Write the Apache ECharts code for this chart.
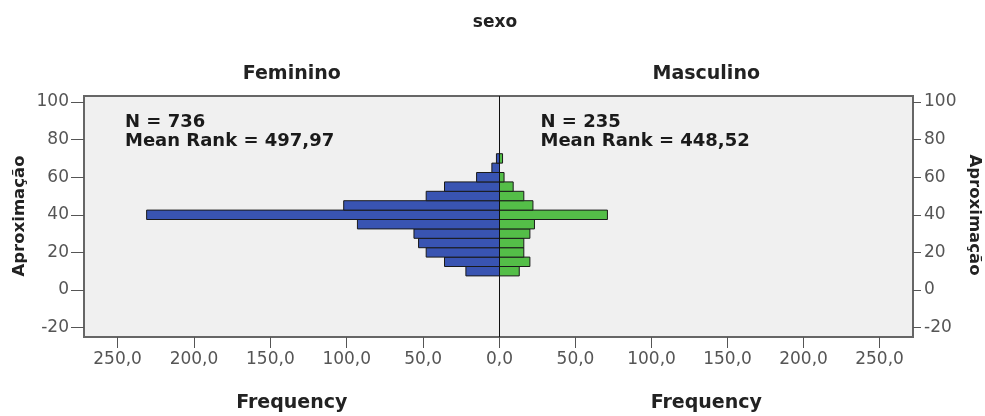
<!DOCTYPE html>
<html>
<head>
<meta charset="utf-8">
<script src="https://cdn.jsdelivr.net/npm/echarts@6/dist/echarts.min.js"></script>
<style>
html,body{margin:0;padding:0;background:#fff;}
#chart{width:985px;height:416px;}
</style>
</head>
<body>
<div id="chart"></div>
<script>
// Bin centres (Aproximação), width 5
var bins = [10, 15, 20, 25, 30, 35, 40, 45, 50, 55, 60, 65, 70];
var femininoFreq = [22, 36, 48, 53, 56, 93, 231, 102, 48, 36, 15, 5, 2];
var masculinoFreq = [13, 20, 16, 16, 20, 23, 71, 22, 16, 9, 3, 0, 2];
var binWidth = 5;
var yTicks = [-20, 0, 20, 40, 60, 80, 100];
var xTicksLeft = [0, 50, 100, 150, 200, 250];
var xTicksRight = [50, 100, 150, 200, 250];
var titleText = 'sexo';
var groupNames = ['Feminino', 'Masculino'];
var groupN = ['N = 736', 'N = 235'];
var groupRank = ['Mean Rank = 497,97', 'Mean Rank = 448,52'];
var yName = 'Aproximação';
var xName = 'Frequency';

var FONT = 'DejaVu Sans';
var chart = echarts.init(document.getElementById('chart'), null, {renderer: 'canvas'});

function fmt(v) { return v.toFixed(1).replace('.', ','); }

function makeData(freqs) {
  return bins.map(function (b, i) { return [freqs[i], b]; });
}

function renderBar(params, api) {
  var f = api.value(0), b = api.value(1);
  if (!f) return null;
  var p1 = api.coord([0, b + binWidth / 2]);
  var p2 = api.coord([f, b - binWidth / 2]);
  var x = Math.min(p1[0], p2[0]);
  var w = Math.abs(p2[0] - p1[0]);
  return {
    type: 'rect',
    shape: {x: x, y: p1[1], width: w, height: p2[1] - p1[1]},
    style: api.style({stroke: '#1a1a1a', lineWidth: 1})
  };
}

var G = {top: 96, bottom: 79};
var leftX = 84, centerX = 499.5, rightX = 913;

var yAxisBase = {
  type: 'value', min: -25, max: 103.2,
  splitLine: {show: false}
};

var option = {
  animation: false,
  backgroundColor: '#ffffff',
  grid: [
    {left: leftX, right: 985 - rightX, top: G.top, bottom: G.bottom, show: true,
     backgroundColor: '#f0f0f0', borderColor: '#666', borderWidth: 2, z: 0},
    {left: leftX, right: 985 - centerX, top: G.top, bottom: G.bottom, show: false},
    {left: centerX, right: 985 - rightX, top: G.top, bottom: G.bottom, show: false}
  ],
  xAxis: [
    {gridIndex: 0, type: 'value', show: false, min: 0, max: 1},
    {gridIndex: 1, type: 'value', min: 0, max: 272, inverse: true, position: 'bottom',
     axisLine: {show: false, onZero: false}, splitLine: {show: false},
     axisTick: {show: true, length: 11, customValues: xTicksLeft, lineStyle: {color: '#555', width: 1}},
     axisLabel: {customValues: xTicksLeft, formatter: fmt, color: '#555', fontFamily: FONT, fontSize: 17, margin: 14}},
    {gridIndex: 2, type: 'value', min: 0, max: 272, position: 'bottom',
     axisLine: {show: false, onZero: false}, splitLine: {show: false},
     axisTick: {show: true, length: 11, customValues: xTicksRight, lineStyle: {color: '#555', width: 1}},
     axisLabel: {customValues: xTicksRight, formatter: fmt, color: '#555', fontFamily: FONT, fontSize: 17, margin: 14}}
  ],
  yAxis: [
    {gridIndex: 0, type: 'value', show: false, min: 0, max: 1},
    Object.assign({}, yAxisBase, {gridIndex: 1, position: 'left',
     axisLine: {show: false, onZero: false},
     axisTick: {show: true, length: 13, customValues: yTicks, lineStyle: {color: '#555', width: 1}},
     axisLabel: {customValues: yTicks, color: '#555', fontFamily: FONT, fontSize: 17, margin: 15}}),
    Object.assign({}, yAxisBase, {gridIndex: 2, position: 'right',
     axisLine: {show: false, onZero: false},
     axisTick: {show: true, length: 8, customValues: yTicks, lineStyle: {color: '#555', width: 1}},
     axisLabel: {customValues: yTicks, color: '#555', fontFamily: FONT, fontSize: 17, margin: 11}})
  ],
  series: [
    {type: 'custom', name: groupNames[0], xAxisIndex: 1, yAxisIndex: 1,
     renderItem: renderBar, data: makeData(femininoFreq), encode: {x: 0, y: 1},
     itemStyle: {color: '#3954b2'}, z: 3,
     markLine: {silent: true, symbol: 'none', label: {show: false},
       lineStyle: {color: '#111', width: 1, type: 'solid'}, data: [{xAxis: 0}]}},
    {type: 'custom', name: groupNames[1], xAxisIndex: 2, yAxisIndex: 2,
     renderItem: renderBar, data: makeData(masculinoFreq), encode: {x: 0, y: 1},
     itemStyle: {color: '#54be48'}, z: 3}
  ],
  graphic: [
    {type: 'text', x: 495, y: 23, style: {text: titleText, font: 'bold 17px "DejaVu Sans"', fill: '#222', textAlign: 'center', textVerticalAlign: 'middle'}},
    {type: 'text', x: (leftX + centerX) / 2, y: 74, style: {text: groupNames[0], font: 'bold 19px "DejaVu Sans"', fill: '#222', textAlign: 'center', textVerticalAlign: 'middle'}},
    {type: 'text', x: (centerX + rightX) / 2, y: 74, style: {text: groupNames[1], font: 'bold 19px "DejaVu Sans"', fill: '#222', textAlign: 'center', textVerticalAlign: 'middle'}},
    {type: 'text', x: 125, y: 122, z: 10, style: {text: groupN[0], font: 'bold 18px "DejaVu Sans"', fill: '#1a1a1a', textAlign: 'left', textVerticalAlign: 'middle'}},
    {type: 'text', x: 125, y: 141.5, z: 10, style: {text: groupRank[0], font: 'bold 18px "DejaVu Sans"', fill: '#1a1a1a', textAlign: 'left', textVerticalAlign: 'middle'}},
    {type: 'text', x: 540.5, y: 122, z: 10, style: {text: groupN[1], font: 'bold 18px "DejaVu Sans"', fill: '#1a1a1a', textAlign: 'left', textVerticalAlign: 'middle'}},
    {type: 'text', x: 540.5, y: 141.5, z: 10, style: {text: groupRank[1], font: 'bold 18px "DejaVu Sans"', fill: '#1a1a1a', textAlign: 'left', textVerticalAlign: 'middle'}},
    {type: 'text', x: 20, y: 216, rotation: Math.PI / 2, style: {text: yName, font: 'bold 16.5px "DejaVu Sans"', fill: '#222', textAlign: 'center', textVerticalAlign: 'middle'}},
    {type: 'text', x: 974, y: 215, rotation: -Math.PI / 2, style: {text: yName, font: 'bold 16.5px "DejaVu Sans"', fill: '#222', textAlign: 'center', textVerticalAlign: 'middle'}},
    {type: 'text', x: (leftX + centerX) / 2, y: 403, style: {text: xName, font: 'bold 19px "DejaVu Sans"', fill: '#222', textAlign: 'center', textVerticalAlign: 'middle'}},
    {type: 'text', x: (centerX + rightX) / 2, y: 403, style: {text: xName, font: 'bold 19px "DejaVu Sans"', fill: '#222', textAlign: 'center', textVerticalAlign: 'middle'}}
  ]
};
chart.setOption(option);
</script>
</body>
</html>
